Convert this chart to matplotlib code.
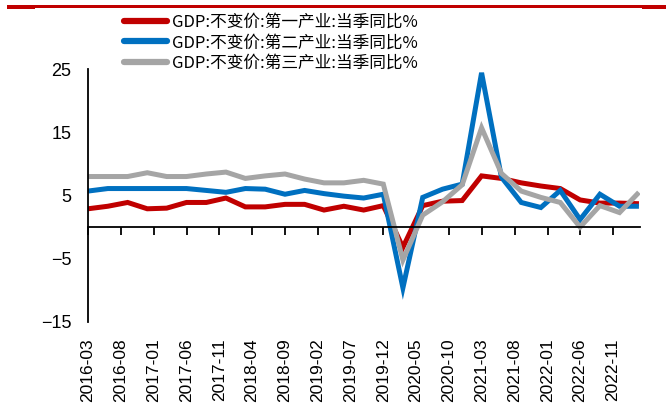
import matplotlib
matplotlib.use("Agg")
import matplotlib.pyplot as plt
from matplotlib import font_manager
from matplotlib.patches import Rectangle
import pandas as pd

# Quarterly GDP growth by sector (constant prices, YoY, %)
quarters = pd.date_range("2016-03-01", "2023-03-01", freq="3MS")
primary = [2.9, 3.3, 3.9, 2.9, 3.0, 3.9, 3.9, 4.6, 3.2, 3.2, 3.6, 3.6, 2.7, 3.3, 2.7,
           3.4, -3.2, 3.4, 4.1, 4.2, 8.1, 7.7, 7.0, 6.5, 6.1, 4.3, 3.8, 3.8, 3.7]
secondary = [5.7, 6.1, 6.1, 6.1, 6.1, 6.1, 5.8, 5.5, 6.1, 6.0, 5.2, 5.8, 5.3, 4.9, 4.6,
             5.2, -9.6, 4.7, 6.0, 6.8, 24.4, 7.9, 3.9, 3.1, 5.8, 1.2, 5.2, 3.3, 3.3]
tertiary = [8.0, 8.0, 8.0, 8.6, 8.0, 8.0, 8.4, 8.7, 7.7, 8.1, 8.4, 7.6, 7.0, 7.0, 7.4,
            6.8, -5.2, 1.9, 4.0, 6.7, 15.7, 8.5, 5.7, 4.7, 3.9, 0.0, 3.4, 2.3, 5.5]
series_labels = ["GDP:不变价:第一产业:当季同比%",
                 "GDP:不变价:第二产业:当季同比%",
                 "GDP:不变价:第三产业:当季同比%"]
series_colors = ["#C00000", "#0070C0", "#A5A5A5"]
y_ticks = [25, 15, 5, -5, -15]
x_ticks = pd.date_range("2016-03-01", "2022-11-01", freq="5MS")

available = {f.name for f in font_manager.fontManager.ttflist}
num_font = "Liberation Sans Narrow" if "Liberation Sans Narrow" in available else "Liberation Sans"
cjk_font = ["Noto Sans CJK SC", "DejaVu Sans"]

fig = plt.figure(figsize=(6.66, 4.05), dpi=100)
ax = fig.add_axes([88 / 666, 1 - 322 / 405, (640 - 88) / 666, (322 - 69) / 405])

# spines first: moving a spine resets tick styling
for s in ["top", "right"]:
    ax.spines[s].set_visible(False)
ax.spines["bottom"].set_position(("data", 0))
ax.spines["bottom"].set_linewidth(1.3)
ax.spines["left"].set_linewidth(1.3)

for vals, lab, col in zip([primary, secondary, tertiary], series_labels, series_colors):
    ax.plot(quarters, vals, color=col, lw=3.6, label=lab,
            solid_joinstyle="miter", solid_capstyle="butt")

ax.set_ylim(-15, 25)
ax.set_yticks(y_ticks)
ax.set_xlim(quarters[0], quarters[-1] + pd.Timedelta(days=5))
ax.set_xticks(x_ticks)
ax.set_xticklabels([d.strftime("%Y-%m") for d in x_ticks])
ax.tick_params(axis="y", length=0, pad=12)
ax.tick_params(axis="x", direction="out", length=6, width=1.3, pad=74)
for t in ax.get_xticklabels():
    t.set_rotation(90)
    t.set_fontfamily(num_font)
    t.set_fontsize(12.5)
for t in ax.get_yticklabels():
    t.set_fontfamily(num_font)
    t.set_fontsize(13)

leg = fig.legend(loc="upper left", bbox_to_anchor=(124 / 666, 1 - 14 / 405),
                 frameon=False, prop={"family": cjk_font, "size": 12},
                 handlelength=2.6, handletextpad=0.3, labelspacing=0.2,
                 borderpad=0, borderaxespad=0)
for h in leg.get_lines():
    h.set_linewidth(4.5)
    h.set_solid_capstyle("round")

# red header rule
fig.add_artist(Rectangle((7 / 666, 1 - 8 / 405), (666 - 7) / 666, 3 / 405,
                         transform=fig.transFigure, color="#C00000", lw=0))
fig.add_artist(Rectangle((7 / 666, 1 - 9 / 405), (35 - 7) / 666, 4 / 405,
                         transform=fig.transFigure, color="#C00000", lw=0))
fig.add_artist(Rectangle((642 / 666, 1 - 9 / 405), (666 - 642) / 666, 4 / 405,
                         transform=fig.transFigure, color="#C00000", lw=0))

fig.savefig("out.png", dpi=100)
